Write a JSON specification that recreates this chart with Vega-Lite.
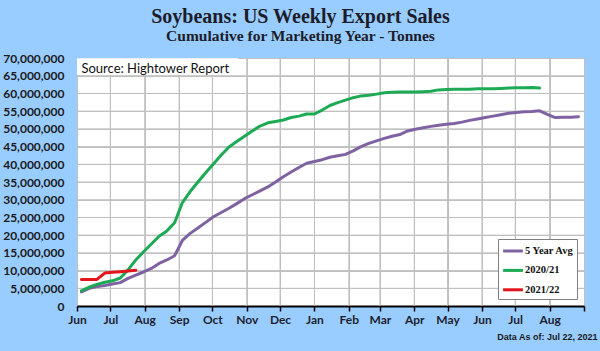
{
  "$schema": "https://vega.github.io/schema/vega-lite/v6.json",
  "width": 507,
  "height": 248,
  "autosize": {"type": "none"},
  "padding": {"left": 77, "top": 58, "right": 16, "bottom": 45},
  "background": "#99ccff",
  "title": {
    "text": "Soybeans: US Weekly Export Sales",
    "subtitle": "Cumulative for Marketing Year - Tonnes",
    "anchor": "middle",
    "frame": "group",
    "dx": -30,
    "font": "Liberation Serif",
    "fontSize": 20,
    "fontWeight": "bold",
    "color": "#1c1c2a",
    "subtitleFont": "Liberation Serif",
    "subtitleFontSize": 15.5,
    "subtitleFontWeight": "bold",
    "subtitleColor": "#1c1c2a",
    "subtitlePadding": 2,
    "offset": 8
  },
  "config": {
    "view": {"stroke": "#a0a0a0", "fill": "white"},
    "axisX": {
      "labelOverlap": false,
      "labelFlush": false,
      "labelFont": "Lato",
      "labelFontWeight": "bold",
      "labelFontSize": 12,
      "labelColor": "#1e1e2e",
      "labelPadding": 3,
      "domain": true,
      "domainColor": "#000000",
      "domainWidth": 2,
      "ticks": true,
      "tickColor": "#000000",
      "tickSize": 5,
      "tickWidth": 1.5,
      "grid": true,
      "gridColor": "#c0c0c0",
      "gridOpacity": 1,
      "gridWidth": 1,
      "titleFont": "Liberation Sans",
      "titleFontSize": 9,
      "titleFontWeight": "bold",
      "titleColor": "#1a1a1a",
      "titleAnchor": "end",
      "titleAlign": "right",
      "titleBaseline": "alphabetic",
      "titleX": 520,
      "titleY": 33
    },
    "axisY": {
      "labelFont": "Lato",
      "labelFontWeight": "bold",
      "labelFontSize": 12,
      "labelColor": "#1a1a1a",
      "labelPadding": 13,
      "labelFlush": false,
      "labelOverlap": false,
      "ticks": false,
      "domain": false,
      "grid": true,
      "gridColor": "#c0c0c0",
      "gridOpacity": 1,
      "gridWidth": 1
    }
  },
  "datasets": {
    "gridMonths": [
      {"date": "2020-07-01"}, {"date": "2020-08-01"}, {"date": "2020-09-01"}, {"date": "2020-10-01"},
      {"date": "2020-11-01"}, {"date": "2020-12-01"}, {"date": "2021-01-01"}, {"date": "2021-02-01"},
      {"date": "2021-03-01"}, {"date": "2021-04-01"}, {"date": "2021-05-01"}, {"date": "2021-06-01"},
      {"date": "2021-07-01"}, {"date": "2021-08-01"}
    ],
    "gridTonnes": [
      {"tonnes": 5000000}, {"tonnes": 10000000}, {"tonnes": 15000000}, {"tonnes": 20000000},
      {"tonnes": 25000000}, {"tonnes": 30000000}, {"tonnes": 35000000}, {"tonnes": 40000000},
      {"tonnes": 45000000}, {"tonnes": 50000000}, {"tonnes": 55000000}, {"tonnes": 60000000},
      {"tonnes": 65000000}
    ],
    "sales": [
      {"series": "5 Year Avg", "date": "2020-06-05", "tonnes": 4000000},
      {"series": "5 Year Avg", "date": "2020-06-12", "tonnes": 5000000},
      {"series": "5 Year Avg", "date": "2020-06-19", "tonnes": 5500000},
      {"series": "5 Year Avg", "date": "2020-06-26", "tonnes": 5800000},
      {"series": "5 Year Avg", "date": "2020-07-03", "tonnes": 6200000},
      {"series": "5 Year Avg", "date": "2020-07-10", "tonnes": 6600000},
      {"series": "5 Year Avg", "date": "2020-07-17", "tonnes": 7800000},
      {"series": "5 Year Avg", "date": "2020-07-24", "tonnes": 8700000},
      {"series": "5 Year Avg", "date": "2020-07-31", "tonnes": 9600000},
      {"series": "5 Year Avg", "date": "2020-08-07", "tonnes": 10600000},
      {"series": "5 Year Avg", "date": "2020-08-14", "tonnes": 12000000},
      {"series": "5 Year Avg", "date": "2020-08-21", "tonnes": 13000000},
      {"series": "5 Year Avg", "date": "2020-08-28", "tonnes": 14200000},
      {"series": "5 Year Avg", "date": "2020-09-04", "tonnes": 18500000},
      {"series": "5 Year Avg", "date": "2020-09-11", "tonnes": 20500000},
      {"series": "5 Year Avg", "date": "2020-09-18", "tonnes": 22000000},
      {"series": "5 Year Avg", "date": "2020-09-25", "tonnes": 23600000},
      {"series": "5 Year Avg", "date": "2020-10-02", "tonnes": 25200000},
      {"series": "5 Year Avg", "date": "2020-10-09", "tonnes": 26400000},
      {"series": "5 Year Avg", "date": "2020-10-16", "tonnes": 27600000},
      {"series": "5 Year Avg", "date": "2020-10-23", "tonnes": 28900000},
      {"series": "5 Year Avg", "date": "2020-10-30", "tonnes": 30300000},
      {"series": "5 Year Avg", "date": "2020-11-06", "tonnes": 31400000},
      {"series": "5 Year Avg", "date": "2020-11-13", "tonnes": 32500000},
      {"series": "5 Year Avg", "date": "2020-11-20", "tonnes": 33600000},
      {"series": "5 Year Avg", "date": "2020-11-27", "tonnes": 35000000},
      {"series": "5 Year Avg", "date": "2020-12-04", "tonnes": 36500000},
      {"series": "5 Year Avg", "date": "2020-12-11", "tonnes": 37800000},
      {"series": "5 Year Avg", "date": "2020-12-18", "tonnes": 39100000},
      {"series": "5 Year Avg", "date": "2020-12-25", "tonnes": 40300000},
      {"series": "5 Year Avg", "date": "2021-01-01", "tonnes": 40800000},
      {"series": "5 Year Avg", "date": "2021-01-08", "tonnes": 41300000},
      {"series": "5 Year Avg", "date": "2021-01-15", "tonnes": 42000000},
      {"series": "5 Year Avg", "date": "2021-01-22", "tonnes": 42400000},
      {"series": "5 Year Avg", "date": "2021-01-29", "tonnes": 42800000},
      {"series": "5 Year Avg", "date": "2021-02-05", "tonnes": 43800000},
      {"series": "5 Year Avg", "date": "2021-02-12", "tonnes": 45000000},
      {"series": "5 Year Avg", "date": "2021-02-19", "tonnes": 45900000},
      {"series": "5 Year Avg", "date": "2021-02-26", "tonnes": 46600000},
      {"series": "5 Year Avg", "date": "2021-03-05", "tonnes": 47300000},
      {"series": "5 Year Avg", "date": "2021-03-12", "tonnes": 47900000},
      {"series": "5 Year Avg", "date": "2021-03-19", "tonnes": 48400000},
      {"series": "5 Year Avg", "date": "2021-03-26", "tonnes": 49400000},
      {"series": "5 Year Avg", "date": "2021-04-02", "tonnes": 49900000},
      {"series": "5 Year Avg", "date": "2021-04-09", "tonnes": 50300000},
      {"series": "5 Year Avg", "date": "2021-04-16", "tonnes": 50700000},
      {"series": "5 Year Avg", "date": "2021-04-23", "tonnes": 51000000},
      {"series": "5 Year Avg", "date": "2021-04-30", "tonnes": 51300000},
      {"series": "5 Year Avg", "date": "2021-05-07", "tonnes": 51500000},
      {"series": "5 Year Avg", "date": "2021-05-14", "tonnes": 51900000},
      {"series": "5 Year Avg", "date": "2021-05-21", "tonnes": 52400000},
      {"series": "5 Year Avg", "date": "2021-05-28", "tonnes": 52800000},
      {"series": "5 Year Avg", "date": "2021-06-04", "tonnes": 53200000},
      {"series": "5 Year Avg", "date": "2021-06-11", "tonnes": 53600000},
      {"series": "5 Year Avg", "date": "2021-06-18", "tonnes": 54000000},
      {"series": "5 Year Avg", "date": "2021-06-25", "tonnes": 54400000},
      {"series": "5 Year Avg", "date": "2021-07-02", "tonnes": 54600000},
      {"series": "5 Year Avg", "date": "2021-07-09", "tonnes": 54800000},
      {"series": "5 Year Avg", "date": "2021-07-16", "tonnes": 54900000},
      {"series": "5 Year Avg", "date": "2021-07-23", "tonnes": 55100000},
      {"series": "5 Year Avg", "date": "2021-07-30", "tonnes": 54100000},
      {"series": "5 Year Avg", "date": "2021-08-06", "tonnes": 53200000},
      {"series": "5 Year Avg", "date": "2021-08-13", "tonnes": 53300000},
      {"series": "5 Year Avg", "date": "2021-08-20", "tonnes": 53300000},
      {"series": "5 Year Avg", "date": "2021-08-27", "tonnes": 53400000},
      {"series": "2020/21", "date": "2020-06-05", "tonnes": 4300000},
      {"series": "2020/21", "date": "2020-06-12", "tonnes": 5300000},
      {"series": "2020/21", "date": "2020-06-19", "tonnes": 6100000},
      {"series": "2020/21", "date": "2020-06-26", "tonnes": 6700000},
      {"series": "2020/21", "date": "2020-07-03", "tonnes": 7100000},
      {"series": "2020/21", "date": "2020-07-10", "tonnes": 7900000},
      {"series": "2020/21", "date": "2020-07-17", "tonnes": 10200000},
      {"series": "2020/21", "date": "2020-07-24", "tonnes": 13000000},
      {"series": "2020/21", "date": "2020-07-31", "tonnes": 15300000},
      {"series": "2020/21", "date": "2020-08-07", "tonnes": 17500000},
      {"series": "2020/21", "date": "2020-08-14", "tonnes": 19700000},
      {"series": "2020/21", "date": "2020-08-21", "tonnes": 21200000},
      {"series": "2020/21", "date": "2020-08-28", "tonnes": 23500000},
      {"series": "2020/21", "date": "2020-09-04", "tonnes": 29200000},
      {"series": "2020/21", "date": "2020-09-11", "tonnes": 32300000},
      {"series": "2020/21", "date": "2020-09-18", "tonnes": 35000000},
      {"series": "2020/21", "date": "2020-09-25", "tonnes": 37600000},
      {"series": "2020/21", "date": "2020-10-02", "tonnes": 40100000},
      {"series": "2020/21", "date": "2020-10-09", "tonnes": 42600000},
      {"series": "2020/21", "date": "2020-10-16", "tonnes": 44900000},
      {"series": "2020/21", "date": "2020-10-23", "tonnes": 46400000},
      {"series": "2020/21", "date": "2020-10-30", "tonnes": 47900000},
      {"series": "2020/21", "date": "2020-11-06", "tonnes": 49400000},
      {"series": "2020/21", "date": "2020-11-13", "tonnes": 50800000},
      {"series": "2020/21", "date": "2020-11-20", "tonnes": 51700000},
      {"series": "2020/21", "date": "2020-11-27", "tonnes": 52100000},
      {"series": "2020/21", "date": "2020-12-04", "tonnes": 52500000},
      {"series": "2020/21", "date": "2020-12-11", "tonnes": 53200000},
      {"series": "2020/21", "date": "2020-12-18", "tonnes": 53600000},
      {"series": "2020/21", "date": "2020-12-25", "tonnes": 54200000},
      {"series": "2020/21", "date": "2021-01-01", "tonnes": 54200000},
      {"series": "2020/21", "date": "2021-01-08", "tonnes": 55300000},
      {"series": "2020/21", "date": "2021-01-15", "tonnes": 56600000},
      {"series": "2020/21", "date": "2021-01-22", "tonnes": 57400000},
      {"series": "2020/21", "date": "2021-01-29", "tonnes": 58100000},
      {"series": "2020/21", "date": "2021-02-05", "tonnes": 58800000},
      {"series": "2020/21", "date": "2021-02-12", "tonnes": 59300000},
      {"series": "2020/21", "date": "2021-02-19", "tonnes": 59500000},
      {"series": "2020/21", "date": "2021-02-26", "tonnes": 59800000},
      {"series": "2020/21", "date": "2021-03-05", "tonnes": 60200000},
      {"series": "2020/21", "date": "2021-03-12", "tonnes": 60300000},
      {"series": "2020/21", "date": "2021-03-19", "tonnes": 60400000},
      {"series": "2020/21", "date": "2021-03-26", "tonnes": 60400000},
      {"series": "2020/21", "date": "2021-04-02", "tonnes": 60400000},
      {"series": "2020/21", "date": "2021-04-09", "tonnes": 60500000},
      {"series": "2020/21", "date": "2021-04-16", "tonnes": 60600000},
      {"series": "2020/21", "date": "2021-04-23", "tonnes": 61000000},
      {"series": "2020/21", "date": "2021-04-30", "tonnes": 61100000},
      {"series": "2020/21", "date": "2021-05-07", "tonnes": 61200000},
      {"series": "2020/21", "date": "2021-05-14", "tonnes": 61200000},
      {"series": "2020/21", "date": "2021-05-21", "tonnes": 61200000},
      {"series": "2020/21", "date": "2021-05-28", "tonnes": 61300000},
      {"series": "2020/21", "date": "2021-06-04", "tonnes": 61300000},
      {"series": "2020/21", "date": "2021-06-11", "tonnes": 61300000},
      {"series": "2020/21", "date": "2021-06-18", "tonnes": 61400000},
      {"series": "2020/21", "date": "2021-06-25", "tonnes": 61500000},
      {"series": "2020/21", "date": "2021-07-02", "tonnes": 61600000},
      {"series": "2020/21", "date": "2021-07-09", "tonnes": 61600000},
      {"series": "2020/21", "date": "2021-07-16", "tonnes": 61700000},
      {"series": "2020/21", "date": "2021-07-23", "tonnes": 61500000},
      {"series": "2021/22", "date": "2020-06-05", "tonnes": 7500000},
      {"series": "2021/22", "date": "2020-06-12", "tonnes": 7500000},
      {"series": "2021/22", "date": "2020-06-19", "tonnes": 7500000},
      {"series": "2021/22", "date": "2020-06-26", "tonnes": 9300000},
      {"series": "2021/22", "date": "2020-07-03", "tonnes": 9500000},
      {"series": "2021/22", "date": "2020-07-10", "tonnes": 9700000},
      {"series": "2021/22", "date": "2020-07-17", "tonnes": 9900000},
      {"series": "2021/22", "date": "2020-07-24", "tonnes": 10100000}
    ]
  },
  "layer": [
    {
      "data": {"name": "gridMonths"},
      "mark": {"type": "rule", "color": "#c0c0c0", "strokeWidth": 1},
      "encoding": {
        "x": {
          "field": "date",
          "type": "temporal",
          "scale": {
            "type": "utc",
            "domain": [
              {"year": 2020, "month": 6, "date": 1, "utc": true},
              {"year": 2021, "month": 9, "date": 1, "utc": true}
            ],
            "nice": false
          },
          "axis": {
            "values": [
              {"year": 2020, "month": 6, "date": 1, "utc": true},
              {"year": 2020, "month": 7, "date": 1, "utc": true},
              {"year": 2020, "month": 8, "date": 1, "utc": true},
              {"year": 2020, "month": 9, "date": 1, "utc": true},
              {"year": 2020, "month": 10, "date": 1, "utc": true},
              {"year": 2020, "month": 11, "date": 1, "utc": true},
              {"year": 2020, "month": 12, "date": 1, "utc": true},
              {"year": 2021, "month": 1, "date": 1, "utc": true},
              {"year": 2021, "month": 2, "date": 1, "utc": true},
              {"year": 2021, "month": 3, "date": 1, "utc": true},
              {"year": 2021, "month": 4, "date": 1, "utc": true},
              {"year": 2021, "month": 5, "date": 1, "utc": true},
              {"year": 2021, "month": 6, "date": 1, "utc": true},
              {"year": 2021, "month": 7, "date": 1, "utc": true},
              {"year": 2021, "month": 8, "date": 1, "utc": true},
              {"year": 2021, "month": 9, "date": 1, "utc": true}
            ],
            "format": "%b",
            "labelExpr": "utcmonth(datum.value) == 8 && utcyear(datum.value) == 2021 ? '' : datum.label",
            "grid": true,
            "title": "Data As of: Jul 22, 2021"
          }
        }
      }
    },
    {
      "data": {"name": "gridTonnes"},
      "mark": {"type": "rule", "color": "#c0c0c0", "strokeWidth": 1},
      "encoding": {
        "y": {
          "field": "tonnes",
          "type": "quantitative",
          "scale": {"domain": [0, 70000000], "nice": false},
          "axis": {
            "values": [0, 5000000, 10000000, 15000000, 20000000, 25000000, 30000000, 35000000, 40000000, 45000000, 50000000, 55000000, 60000000, 65000000, 70000000],
            "format": ",d",
            "grid": true,
            "title": null
          }
        }
      }
    },
    {
      "data": {"name": "sales"},
      "mark": {"type": "line", "strokeWidth": 3, "strokeJoin": "round", "strokeCap": "round"},
      "encoding": {
        "x": {
          "field": "date",
          "type": "temporal",
          "scale": {
            "type": "utc",
            "domain": [
              {"year": 2020, "month": 6, "date": 1, "utc": true},
              {"year": 2021, "month": 9, "date": 1, "utc": true}
            ],
            "nice": false
          },
          "axis": {
            "values": [
              {"year": 2020, "month": 6, "date": 1, "utc": true},
              {"year": 2020, "month": 7, "date": 1, "utc": true},
              {"year": 2020, "month": 8, "date": 1, "utc": true},
              {"year": 2020, "month": 9, "date": 1, "utc": true},
              {"year": 2020, "month": 10, "date": 1, "utc": true},
              {"year": 2020, "month": 11, "date": 1, "utc": true},
              {"year": 2020, "month": 12, "date": 1, "utc": true},
              {"year": 2021, "month": 1, "date": 1, "utc": true},
              {"year": 2021, "month": 2, "date": 1, "utc": true},
              {"year": 2021, "month": 3, "date": 1, "utc": true},
              {"year": 2021, "month": 4, "date": 1, "utc": true},
              {"year": 2021, "month": 5, "date": 1, "utc": true},
              {"year": 2021, "month": 6, "date": 1, "utc": true},
              {"year": 2021, "month": 7, "date": 1, "utc": true},
              {"year": 2021, "month": 8, "date": 1, "utc": true},
              {"year": 2021, "month": 9, "date": 1, "utc": true}
            ],
            "format": "%b",
            "labelExpr": "utcmonth(datum.value) == 8 && utcyear(datum.value) == 2021 ? '' : datum.label",
            "grid": true,
            "title": "Data As of: Jul 22, 2021"
          }
        },
        "y": {
          "field": "tonnes",
          "type": "quantitative",
          "scale": {"domain": [0, 70000000], "nice": false},
          "axis": {
            "values": [0, 5000000, 10000000, 15000000, 20000000, 25000000, 30000000, 35000000, 40000000, 45000000, 50000000, 55000000, 60000000, 65000000, 70000000],
            "format": ",d",
            "grid": true,
            "title": null
          }
        },
        "color": {
          "field": "series",
          "type": "nominal",
          "scale": {
            "domain": ["5 Year Avg", "2020/21", "2021/22"],
            "range": ["#7e62a1", "#1daa55", "#e3141b"]
          },
          "legend": {
            "orient": "none",
            "legendX": 421,
            "legendY": 181,
            "title": null,
            "fillColor": "white",
            "strokeColor": "#7f7f7f",
            "padding": 3,
            "symbolType": "M-1.4,0H1.4",
            "symbolSize": 200,
            "symbolStrokeWidth": 3,
            "symbolFillColor": "transparent",
            "symbolOffset": 3,
            "labelFont": "Liberation Serif",
            "labelFontWeight": "bold",
            "labelFontSize": 10.5,
            "labelColor": "#111111",
            "labelOffset": 3,
            "rowPadding": 4.4
          }
        },
        "order": {"field": "date", "type": "temporal"}
      }
    },
    {
      "data": {"values": [{}]},
      "mark": {"type": "rect", "color": "white"},
      "encoding": {
        "x": {
          "datum": {"year": 2020, "month": 6, "date": 1, "utc": true},
          "type": "temporal",
          "axis": {
            "values": [
              {"year": 2020, "month": 6, "date": 1, "utc": true},
              {"year": 2020, "month": 7, "date": 1, "utc": true},
              {"year": 2020, "month": 8, "date": 1, "utc": true},
              {"year": 2020, "month": 9, "date": 1, "utc": true},
              {"year": 2020, "month": 10, "date": 1, "utc": true},
              {"year": 2020, "month": 11, "date": 1, "utc": true},
              {"year": 2020, "month": 12, "date": 1, "utc": true},
              {"year": 2021, "month": 1, "date": 1, "utc": true},
              {"year": 2021, "month": 2, "date": 1, "utc": true},
              {"year": 2021, "month": 3, "date": 1, "utc": true},
              {"year": 2021, "month": 4, "date": 1, "utc": true},
              {"year": 2021, "month": 5, "date": 1, "utc": true},
              {"year": 2021, "month": 6, "date": 1, "utc": true},
              {"year": 2021, "month": 7, "date": 1, "utc": true},
              {"year": 2021, "month": 8, "date": 1, "utc": true},
              {"year": 2021, "month": 9, "date": 1, "utc": true}
            ],
            "format": "%b",
            "labelExpr": "utcmonth(datum.value) == 8 && utcyear(datum.value) == 2021 ? '' : datum.label",
            "grid": true,
            "title": "Data As of: Jul 22, 2021"
          }
        },
        "x2": {"datum": {"year": 2020, "month": 10, "date": 24, "utc": true}},
        "y": {
          "datum": 65250000,
          "type": "quantitative",
          "axis": {
            "values": [0, 5000000, 10000000, 15000000, 20000000, 25000000, 30000000, 35000000, 40000000, 45000000, 50000000, 55000000, 60000000, 65000000, 70000000],
            "format": ",d",
            "grid": true,
            "title": null
          }
        },
        "y2": {"datum": 69900000}
      }
    },
    {
      "data": {"values": [{}]},
      "mark": {"type": "text", "text": "Source: Hightower Report", "align": "left", "baseline": "middle", "font": "Lato", "fontSize": 13, "color": "#111111"},
      "encoding": {
        "x": {
          "datum": {"year": 2020, "month": 6, "date": 5, "utc": true},
          "type": "temporal",
          "axis": {
            "values": [
              {"year": 2020, "month": 6, "date": 1, "utc": true},
              {"year": 2020, "month": 7, "date": 1, "utc": true},
              {"year": 2020, "month": 8, "date": 1, "utc": true},
              {"year": 2020, "month": 9, "date": 1, "utc": true},
              {"year": 2020, "month": 10, "date": 1, "utc": true},
              {"year": 2020, "month": 11, "date": 1, "utc": true},
              {"year": 2020, "month": 12, "date": 1, "utc": true},
              {"year": 2021, "month": 1, "date": 1, "utc": true},
              {"year": 2021, "month": 2, "date": 1, "utc": true},
              {"year": 2021, "month": 3, "date": 1, "utc": true},
              {"year": 2021, "month": 4, "date": 1, "utc": true},
              {"year": 2021, "month": 5, "date": 1, "utc": true},
              {"year": 2021, "month": 6, "date": 1, "utc": true},
              {"year": 2021, "month": 7, "date": 1, "utc": true},
              {"year": 2021, "month": 8, "date": 1, "utc": true},
              {"year": 2021, "month": 9, "date": 1, "utc": true}
            ],
            "format": "%b",
            "labelExpr": "utcmonth(datum.value) == 8 && utcyear(datum.value) == 2021 ? '' : datum.label",
            "grid": true,
            "title": "Data As of: Jul 22, 2021"
          }
        },
        "y": {
          "datum": 67000000,
          "type": "quantitative",
          "axis": {
            "values": [0, 5000000, 10000000, 15000000, 20000000, 25000000, 30000000, 35000000, 40000000, 45000000, 50000000, 55000000, 60000000, 65000000, 70000000],
            "format": ",d",
            "grid": true,
            "title": null
          }
        }
      }
    }
  ]
}
